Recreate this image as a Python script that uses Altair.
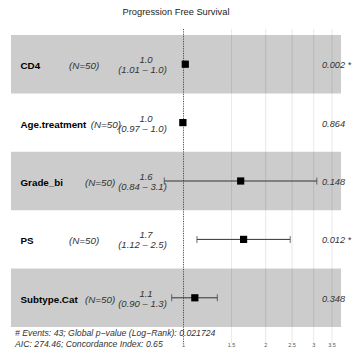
import altair as alt
import pandas as pd

# ---- data ----
variables = ["CD4", "Age.treatment", "Grade_bi", "PS", "Subtype.Cat"]
n_labels = ["(N=50)", "(N=50)", "(N=50)", "(N=50)", "(N=50)"]
hazard = [1.015, 0.995, 1.62, 1.66, 1.10]
ci_low = [1.01, 0.97, 0.85, 1.12, 0.905]
ci_high = [1.02, 1.00, 3.08, 2.46, 1.33]
est_labels = ["1.0", "1.0", "1.6", "1.7", "1.1"]
ci_labels = ["(1.01 \u2013 1.0)", "(0.97 \u2013 1.0)", "(0.84 \u2013 3.1)",
             "(1.12 \u2013 2.5)", "(0.90 \u2013 1.3)"]
p_labels = ["0.002 *", "0.864", "0.148", "0.012 *", "0.348"]
tick_values = [1, 1.5, 2, 2.5, 3, 3.5]
tick_labels = ["1", "1.5", "2", "2.5", "3", "3.5"]
title_text = "Progression Free Survival"
footnote_1 = "# Events: 43; Global p\u2212value (Log\u2212Rank): 0.021724"
footnote_2 = "AIC: 274.46; Concordance Index: 0.65"

# layout (pixel offsets of the text columns within the plot area)
n_label_x = [58, 79.7, 74, 58, 74]

W, H = 330, 315
FONT = "Liberation Sans"

df = pd.DataFrame({
    "var": variables,
    "n": n_labels,
    "hr": hazard,
    "lo": ci_low,
    "hi": ci_high,
    "est": est_labels,
    "ci": ci_labels,
    "p": p_labels,
})
df["r"] = range(1, len(df) + 1)
df["r0"] = df["r"] - 0.5
df["r1"] = df["r"] + 0.5
df["shade"] = df["r"] % 2

ticks_df = pd.DataFrame({"v": tick_values, "lab": tick_labels})

# plot area starts 1px above the reference panel top (page y=28)
xscale = alt.Scale(type="log", domain=[0.2332, 3.777], nice=False, padding=0)
yscale = alt.Scale(domain=[0.38, 5.774], reverse=True, nice=False, zero=False, padding=0)

base = alt.Chart(df)
Y = alt.Y("r:Q", scale=yscale, axis=None)

grid_layer = alt.Chart(ticks_df).mark_rule(color="#dedede", strokeWidth=0.7).encode(
    x=alt.X("v:Q", scale=xscale, axis=None),
    y=alt.value(1), y2=alt.value(H),
)
tick_text = alt.Chart(ticks_df).mark_text(
    align="center", baseline="middle", font=FONT, fontSize=5.5, color="#555555"
).encode(
    x=alt.X("v:Q", scale=xscale, axis=None),
    y=alt.value(317), text="lab:N",
)

bands = base.transform_filter("datum.shade == 1").mark_rect(
    color="black", opacity=0.2
).encode(
    x=alt.value(0), x2=alt.value(W),
    y=alt.Y("r0:Q", scale=yscale, axis=None), y2="r1:Q",
)

ref_line = alt.Chart(pd.DataFrame({"v": [1]})).mark_rule(
    color="#444444", strokeWidth=1, strokeDash=[1, 1.4]
).encode(
    x=alt.X("v:Q", scale=xscale, axis=None),
    y=alt.value(1), y2=alt.value(H),
)

ci_rule = base.mark_rule(color="#333333", strokeWidth=1).encode(
    x=alt.X("lo:Q", scale=xscale, axis=None), x2="hi:Q", y=Y,
)
cap_lo = base.mark_tick(orient="vertical", size=7, thickness=1, color="#333333").encode(
    x=alt.X("lo:Q", scale=xscale, axis=None), y=Y,
)
cap_hi = base.mark_tick(orient="vertical", size=7, thickness=1, color="#333333").encode(
    x=alt.X("hi:Q", scale=xscale, axis=None), y=Y,
)
points = base.mark_square(size=52, color="black", opacity=1, filled=True).encode(
    x=alt.X("hr:Q", scale=xscale, axis=None), y=Y,
)

names = base.mark_text(align="left", baseline="middle", font=FONT,
                       fontWeight="bold", fontSize=9.8, color="black", dy=2).encode(
    x=alt.value(9.5), y=Y, text="var:N",
)

n_layers = []
for v, nx in zip(variables, n_label_x):
    n_layers.append(
        base.transform_filter(alt.datum.var == v).mark_text(
            align="left", baseline="middle", font=FONT, fontStyle="italic",
            fontSize=9.8, color="#333333", dy=2
        ).encode(x=alt.value(nx), y=Y, text="n:N")
    )

est_top = base.mark_text(align="center", baseline="middle", font=FONT,
                         fontStyle="italic", fontSize=9.5, color="#333333", dy=-4).encode(
    x=alt.value(135), y=Y, text="est:N",
)
est_bottom = base.mark_text(align="center", baseline="middle", font=FONT,
                            fontStyle="italic", fontSize=9.5, color="#333333", dy=6).encode(
    x=alt.value(131.5), y=Y, text="ci:N",
)
pv = base.mark_text(align="left", baseline="middle", font=FONT,
                    fontStyle="italic", fontSize=9.2, color="#333333", dy=1).encode(
    x=alt.value(311), y=Y, text="p:N",
)

title = alt.Chart(pd.DataFrame({"t": [title_text]})).mark_text(
    align="center", baseline="middle", font=FONT, fontSize=9.3, color="#222222"
).encode(x=alt.value(165), y=alt.value(-15.7), text="t:N")

foot1 = alt.Chart(pd.DataFrame({"t": [footnote_1]})).mark_text(
    align="left", baseline="middle", font=FONT, fontStyle="italic",
    fontSize=8.7, color="#333333"
).encode(x=alt.value(4), y=alt.value(305), text="t:N")
foot2 = alt.Chart(pd.DataFrame({"t": [footnote_2]})).mark_text(
    align="left", baseline="middle", font=FONT, fontStyle="italic",
    fontSize=8.7, color="#333333"
).encode(x=alt.value(4), y=alt.value(315.5), text="t:N")

chart = alt.layer(
    grid_layer, bands, ref_line, ci_rule, cap_lo, cap_hi, points,
    names, *n_layers, est_top, est_bottom, pv, title, foot1, foot2, tick_text,
).properties(
    width=W, height=H,
    autosize=alt.AutoSizeParams(type="none"),
    padding={"left": 3, "top": 20, "right": 11, "bottom": 5},
).configure_view(stroke=None)

chart.save("out.html", embed_options={"renderer": "svg", "actions": False})
